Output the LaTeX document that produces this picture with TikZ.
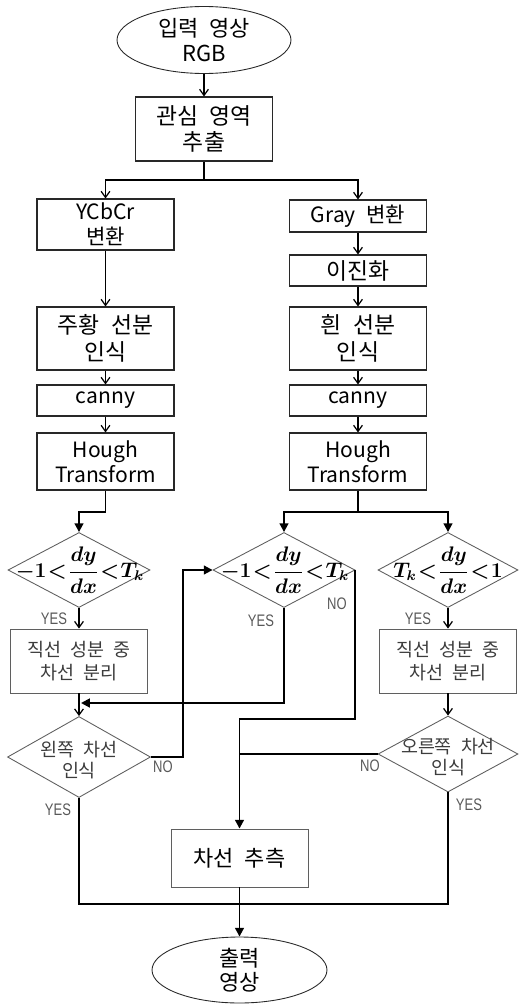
\documentclass[tikz,border=0pt]{standalone}
\usepackage{amsmath}
\usepackage{fontspec}
\usepackage{tikz}
\usetikzlibrary{arrows.meta,shapes.geometric}
\newfontfamily\ko[WordSpace=2.2]{Noto Sans CJK KR}
\newfontfamily\yn[FakeStretch=0.78]{Liberation Sans}
\definecolor{lgray}{RGB}{95, 95, 95}
\definecolor{dgray}{RGB}{40, 40, 40}
\definecolor{tgray}{RGB}{60, 60, 60}
\tikzset{
	box/.style = {draw = dgray, line width = 0.6pt, minimum width = 2.74cm, inner sep = 0pt, align = center, font = {\ko\fontsize{13}{15}\selectfont}},
	latin/.style = {font = {\ko\fontsize{12}{14}\selectfont}},
	term/.style = {ellipse, draw = dgray, line width = 0.5pt, minimum width = 3.48cm, minimum height = 1.34cm, inner sep = 0pt, align = center, font = {\ko\fontsize{12.5}{14}\selectfont}},
	sepbox/.style = {draw = lgray, line width = 0.5pt, minimum width = 2.74cm, minimum height = 1.28cm, inner sep = 0pt, align = center, text = tgray, font = {\ko\fontsize{10.5}{13}\selectfont}},
	cond/.style = {diamond, draw = lgray, line width = 0.5pt, inner sep = 0pt, minimum width = 2.84cm, minimum height = 1.5cm},
	condtxt/.style = {inner sep = 0pt, align = center, text = tgray, font = {\ko\fontsize{10.5}{11.5}\selectfont}},
	mathtxt/.style = {inner sep = 0pt, font = {\fontsize{11.5}{13}\selectfont\boldmath}},
	lbl/.style = {inner sep = 0pt, text = black!65, font = {\yn\fontsize{9.5}{10}\selectfont}},
	arr/.style = {line width = 0.7pt, -{Straight Barb[length = 3.5pt, width = 5pt]}},
	fat/.style = {line width = 1.1pt},
	tri/.style = {-{Triangle[length = 5pt, width = 5pt]}}
}
\begin{document}
\begin{tikzpicture}[x = 0.02cm, y = -0.02cm]
			\useasboundingbox (0,0) rectangle (518,1004);
			% top part
			\node (in) at (204,40) [term] {입력 영상\\RGB};
			\node (roi) at (204,129) [box, minimum height = 1.28cm] {관심 영역\\추출};
			\node (ycc) at (105.5,224.5) [box, latin, minimum height = 1.02cm] {YCbCr\\변환};
			\node (gray) at (358,216) [box, latin, minimum height = 0.64cm] {Gray 변환};
			\node (bin) at (358,270.5) [box, minimum height = 0.62cm] {이진화};
			\node (yel) at (105.5,338.5) [box, minimum height = 1.26cm] {주황 선분\\인식};
			\node (wht) at (358,338.5) [box, minimum height = 1.26cm] {흰 선분\\인식};
			\node (canL) at (105.5,400.5) [box, latin, minimum height = 0.62cm] {canny};
			\node (canR) at (358,400.5) [box, latin, minimum height = 0.62cm] {canny};
			\node (houL) at (105.5,461.5) [box, latin, minimum height = 1.14cm] {Hough\\Transform};
			\node (houR) at (358,461.5) [box, latin, minimum height = 1.14cm] {Hough\\Transform};
			\coordinate (j1) at (204,180);
			\draw[arr] (in) -- (roi);
			\draw[line width = 0.7pt] (roi) -- (j1);
			\draw[arr] (j1) -| (ycc.north);
			\draw[arr] (j1) -| (gray.north);
			\draw[arr] (ycc) -- (yel);
			\draw[arr] (yel) -- (canL);
			\draw[arr] (canL) -- (houL);
			\draw[arr] (gray) -- (bin);
			\draw[arr] (bin) -- (wht);
			\draw[arr] (wht) -- (canR);
			\draw[arr] (canR) -- (houR);
			% decisions
			\node (dL) at (79,570) [cond] {};
			\node (dM) at (284,570) [cond] {};
			\node (dR) at (448,570) [cond, minimum width = 2.8cm] {};
			\node (dLt) at (80,570) [mathtxt] {$-1\mkern1mu{<}\mkern1mu\dfrac{dy}{dx}\mkern1mu{<}\mkern1mu T_k$};
			\node (dMt) at (285,570) [mathtxt] {$-1\mkern1mu{<}\mkern1mu\dfrac{dy}{dx}\mkern1mu{<}\mkern1mu T_k$};
			\node (dRt) at (448,570) [mathtxt] {$T_k\mkern1mu{<}\mkern1mu\dfrac{dy}{dx}\mkern1mu{<}\mkern1mu 1$};
			\node (sepL) at (79,661) [sepbox] {직선 성분 중\\차선 분리};
			\node (sepR) at (448,661) [sepbox] {직선 성분 중\\차선 분리};
			\node (lL) at (79,757) [cond, minimum width = 2.86cm, minimum height = 1.62cm] {};
			\node (lR) at (448,754) [cond, minimum width = 2.8cm, minimum height = 1.52cm] {};
			\node (lLt) at (79,760) [condtxt] {왼쪽 차선\\인식};
			\node (lRt) at (448,757) [condtxt] {오른쪽 차선\\인식};
			\node (est) at (239.5,858) [sepbox, text = black, minimum height = 1.16cm, font = {\ko\fontsize{12.5}{14}\selectfont}] {차선 추측};
			\node (out) at (239.5,970) [term, minimum width = 3.5cm, minimum height = 1.32cm] {출력\\영상};
			% labels
			\node (y1) at (54,619) [lbl] {YES};
			\node (y2) at (261,621) [lbl] {YES};
			\node (y3) at (418,619) [lbl] {YES};
			\node (n1) at (337,604) [lbl] {NO};
			\node (n2) at (163,767) [lbl] {NO};
			\node (n3) at (370,766) [lbl] {NO};
			\node (y4) at (58,810) [lbl] {YES};
			\node (y5) at (469,805) [lbl] {YES};
			% lower connectors
			\coordinate (jL) at (105.5,512);
			\coordinate (jR) at (358,512);
			\coordinate (mY) at (81,703);
			\coordinate (mN) at (239.5,719);
			\coordinate (rN) at (239.5,754);
			\coordinate (jB) at (239.5,904);
			\draw[fat, tri] (houL.south) -- (jL) -| (dL.north);
			\draw[fat] (houR.south) -- (jR);
			\draw[fat, tri] (jR) -| (dM.north);
			\draw[fat, tri] (jR) -| (dR.north);
			\draw[arr] (dL) -- (sepL);
			\draw[arr] (dR) -- (sepR);
			\draw[arr] (sepL) -- (lL);
			\draw[arr] (sepR) -- (lR);
			\draw[fat, tri] (dM.south) |- (mY);
			\draw[fat, tri] (dM.east) |- (mN) -- (est.north);
			\draw[fat, tri] (lL.east) -- ++(32,0) |- (dM.west);
			\draw[fat] (lR.west) -- (rN);
			\draw[fat] (lL.south) |- (jB);
			\draw[fat] (lR.south) |- (jB);
			\draw[fat] (est.south) -- (jB);
			\draw[fat, tri] (jB) -- (out.north);
\end{tikzpicture}
\end{document}
